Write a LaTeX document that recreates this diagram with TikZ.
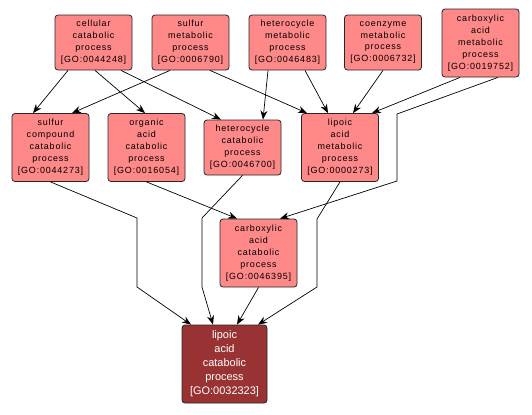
\documentclass[tikz,border=0pt]{standalone}
\usepackage{fontspec}
\setmainfont{Liberation Sans}
\newfontfamily\goFont[LetterSpace=9]{Liberation Sans}
\usepackage{tikz}
\usetikzlibrary{arrows.meta, positioning}
\definecolor{goPink}{RGB}{255,136,136}
\definecolor{goRed}{RGB}{153,51,51}

\begin{document}
\begin{tikzpicture}[x=1bp, y=-1bp,
    term/.style={rectangle, rounded corners=3bp, draw=black!85, line width=0.8bp, fill=goPink, align=center, inner sep=0pt, minimum width=77bp, font=\goFont\fontsize{9}{12}\selectfont},
    shortterm/.style={term, minimum height=55bp},
    tallterm/.style={term, minimum height=68bp},
    target/.style={term, fill=goRed, text=white, minimum width=85bp, minimum height=78bp, font=\fontsize{11}{14}\selectfont},
    isa/.style={-{Stealth[length=9bp, width=7bp]}, line width=0.7bp}
]
\useasboundingbox (0,0) rectangle (532,414);

% Top row: parent terms
\node[shortterm] (cellCat) at (93.5,42.5) {cellular\\catabolic\\process\\{[GO:0044248]}};
\node[shortterm] (sulfMet) at (190.5,42.5) {sulfur\\metabolic\\process\\{[GO:0006790]}};
\node[shortterm] (hetMet) at (287.5,42.5) {heterocycle\\metabolic\\process\\{[GO:0046483]}};
\node[shortterm] (coenzMet) at (383,42.5) {coenzyme\\metabolic\\process\\{[GO:0006732]}};
\node[tallterm] (carbMet) at (480.5,43) {carboxylic\\acid\\metabolic\\process\\{[GO:0019752]}};

% Middle row
\node[tallterm] (sulfCat) at (50.5,147.5) {sulfur\\compound\\catabolic\\process\\{[GO:0044273]}};
\node[tallterm] (orgCat) at (146.5,147.5) {organic\\acid\\catabolic\\process\\{[GO:0016054]}};
\node[shortterm] (hetCat) at (242.5,147.5) {heterocycle\\catabolic\\process\\{[GO:0046700]}};
\node[tallterm] (lipMet) at (340,147.5) {lipoic\\acid\\metabolic\\process\\{[GO:0000273]}};

% Lower terms
\node[tallterm] (carbCat) at (258.5,253) {carboxylic\\acid\\catabolic\\process\\{[GO:0046395]}};
\node[target] (lipCat) at (224.5,364) {lipoic\\acid\\catabolic\\process\\{[GO:0032323]}};

% Edges from the top row
\draw[isa] ([xshift=-25.5bp]cellCat.south) -- ([xshift=-17.5bp]sulfCat.north);
\draw[isa] ([xshift=1.5bp]cellCat.south) -- ([xshift=-1.5bp]orgCat.north);
\draw[isa] ([xshift=27.5bp]cellCat.south) -- ([xshift=-21.5bp]hetCat.north);
\draw[isa] ([xshift=-20.5bp]sulfMet.south) -- ([xshift=21.5bp]sulfCat.north);
\draw[isa] ([xshift=19.5bp]sulfMet.south) -- ([xshift=-33bp]lipMet.north);
\draw[isa] ([xshift=-19.5bp]hetMet.south) -- ([xshift=20.5bp]hetCat.north);
\draw[isa] ([xshift=17.5bp]hetMet.south) -- ([xshift=-12bp]lipMet.north);
\draw[isa] (coenzMet.south) -- ([xshift=13bp]lipMet.north);
\draw[isa] ([xshift=-20.5bp]carbMet.south) -- ([xshift=32bp]lipMet.north);
\draw[isa] ([xshift=17.5bp]carbMet.south) -- (397,114) -- (397,181) -- ([xshift=21.5bp]carbCat.north);

% Edges down to the lipoic acid catabolic term
\draw[isa] (sulfCat.south) -- (137,218) -- (137,287) -- ([xshift=-33.5bp]lipCat.north);
\draw[isa] (orgCat.south) -- ([xshift=-21.5bp]carbCat.north);
\draw[isa] (hetCat.south) -- (202,218) -- (202,287) -- ([xshift=-11.5bp]lipCat.north);
\draw[isa] (lipMet.south) -- (317,219) -- (317,287) -- ([xshift=33.5bp]lipCat.north);
\draw[isa] (carbCat.south) -- ([xshift=12.5bp]lipCat.north);
\end{tikzpicture}
\end{document}
